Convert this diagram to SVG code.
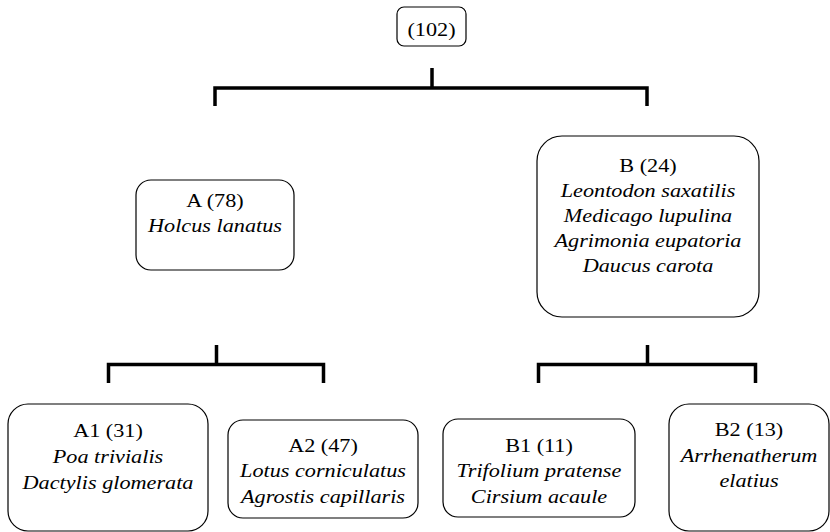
<svg xmlns="http://www.w3.org/2000/svg" width="830" height="532" viewBox="0 0 830 532">
<style>
.box{fill:#fff;stroke:#000;stroke-width:1.2}
.t{font-size:19.5px;fill:#000;text-anchor:middle}
.i{font-style:italic}
.con{fill:none;stroke:#000;stroke-width:3.5;stroke-linecap:butt;stroke-linejoin:miter}
</style>
<rect width="830" height="532" fill="#fff"/>
<g id="connectors">
<path class="con" d="M432 68V88M215 106V88H647V106"/>
<path class="con" d="M216.5 345V364.5M108.5 383V364.5H323.5V383"/>
<path class="con" d="M647.5 345V364.5M538.5 383V364.5H755.5V383"/>
</g>
<g font-family="Liberation Serif, DejaVu Serif, serif">
<g id="root">
<rect class="box" x="397" y="7" width="69" height="39" rx="7"/>
<g transform="translate(431.5 0) scale(1.14 1)"><text class="t" x="0" y="36">(102)</text></g>
</g>
<g id="nodeA">
<rect class="box" x="136" y="180" width="158" height="90" rx="15"/>
<g transform="translate(215 0) scale(1.14 1)">
<text class="t" x="0" y="207">A (78)</text>
<text class="t i" x="0" y="232">Holcus lanatus</text>
</g>
</g>
<g id="nodeB">
<rect class="box" x="537" y="136" width="222" height="181" rx="25"/>
<g transform="translate(648 0) scale(1.14 1)">
<text class="t" x="0" y="172">B (24)</text>
<text class="t i" x="0" y="197">Leontodon saxatilis</text>
<text class="t i" x="0" y="222">Medicago lupulina</text>
<text class="t i" x="0" y="247">Agrimonia eupatoria</text>
<text class="t i" x="0" y="272">Daucus carota</text>
</g>
</g>
<g id="nodeA1">
<rect class="box" x="8" y="404" width="200" height="127" rx="20"/>
<g transform="translate(108 0) scale(1.14 1)">
<text class="t" x="0" y="437">A1 (31)</text>
<text class="t i" x="0" y="463">Poa trivialis</text>
<text class="t i" x="0" y="489">Dactylis glomerata</text>
</g>
</g>
<g id="nodeA2">
<rect class="box" x="228" y="420" width="190" height="98" rx="15"/>
<g transform="translate(323 0) scale(1.14 1)">
<text class="t" x="0" y="452">A2 (47)</text>
<text class="t i" x="0" y="477">Lotus corniculatus</text>
<text class="t i" x="0" y="503">Agrostis capillaris</text>
</g>
</g>
<g id="nodeB1">
<rect class="box" x="443" y="419" width="192" height="98" rx="15"/>
<g transform="translate(539 0) scale(1.14 1)">
<text class="t" x="0" y="452">B1 (11)</text>
<text class="t i" x="0" y="477">Trifolium pratense</text>
<text class="t i" x="0" y="503">Cirsium acaule</text>
</g>
</g>
<g id="nodeB2">
<rect class="box" x="669" y="404" width="160" height="127" rx="20"/>
<g transform="translate(749 0) scale(1.14 1)">
<text class="t" x="0" y="436">B2 (13)</text>
<text class="t i" x="0" y="462">Arrhenatherum</text>
<text class="t i" x="0" y="487">elatius</text>
</g>
</g>
</g>
</svg>
